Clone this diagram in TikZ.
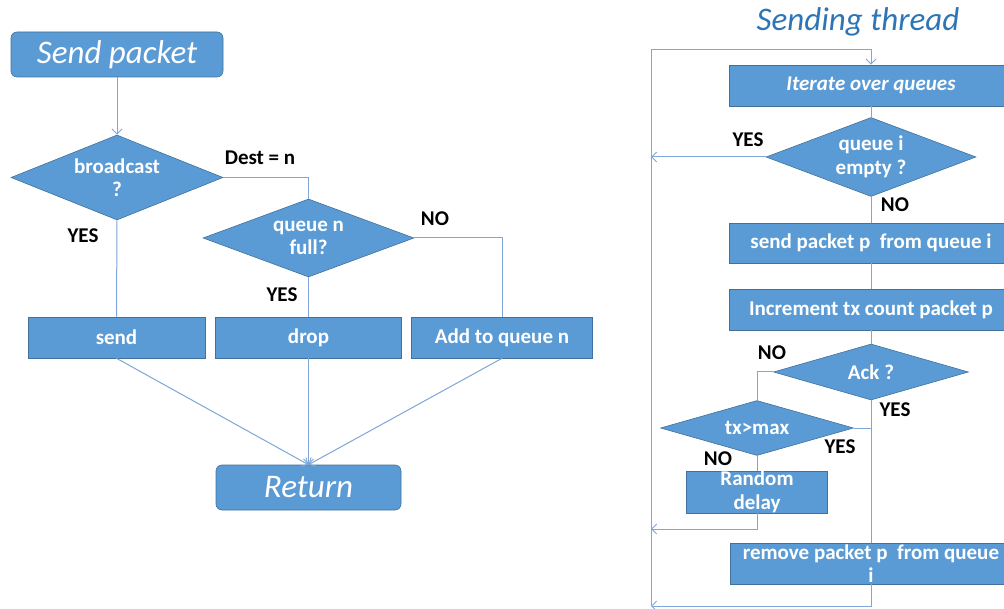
\documentclass[tikz,border=0pt]{standalone}
\usepackage{fontspec}
\setmainfont{Carlito}
\usetikzlibrary{shapes.geometric,arrows.meta}
\definecolor{boxfill}{HTML}{5B9BD5}
\definecolor{boxline}{HTML}{41719C}
\definecolor{connblue}{HTML}{7EA6D8}
\definecolor{titleblue}{HTML}{2E75B6}
\begin{document}
\begin{tikzpicture}[x=1pt,y=-1pt,
 box/.style={rectangle, fill=boxfill, draw=boxline, line width=0.6pt, text=white, font=\fontsize{21}{23.5}\selectfont\bfseries, inner sep=0pt, align=center},
 term/.style={box, rounded corners=6pt, font=\fontsize{33}{36}\selectfont\itshape},
 decision/.style={diamond, fill=boxfill, draw=boxline, line width=0.6pt, text=white, font=\fontsize{21}{23.5}\selectfont\bfseries, inner sep=0pt, align=center, shape aspect=2.5},
 conn/.style={draw=connblue, line width=1pt},
 arr/.style={conn, -{Straight Barb[length=5pt,width=10pt]}},
 lbl/.style={font=\fontsize{21}{23}\selectfont\bfseries, text=black, inner sep=0pt}
]
\useasboundingbox (0,0) rectangle (1004,609);
\clip (0,0) rectangle (1004,609);

% ---- left: Send packet ----
\node[term, minimum width=212pt, minimum height=45pt] (sp) at (117,54.5) {Send packet};
\node[decision, minimum width=212pt, minimum height=85pt] (bc) at (117,177.5) {broadcast\\?};
\node[decision, minimum width=211pt, minimum height=78pt] (qn) at (308.5,238) {queue n\\full?};
\node[box, minimum width=177pt, minimum height=41pt] (send) at (116.5,337.5) {send};
\node[box, minimum width=186pt, minimum height=41pt] (drop) at (308.5,337.5) {drop};
\node[box, minimum width=181pt, minimum height=41pt] (add) at (502,337.5) {Add to queue n};
\node[term, minimum width=185pt, minimum height=45pt] (ret) at (308.5,487.5) {Return};

\draw[arr] (sp.south) -- (bc.north);
\draw[conn] (bc.east) -| (qn.north);
\draw[conn] (bc.south) -- (send.north);
\draw[conn] (qn.south) -- (drop.north);
\draw[conn] (qn.east) -| (add.north);
\draw[arr] (send.south) -- (ret.north);
\draw[arr] (drop.south) -- (ret.north);
\draw[arr] (add.south) -- (ret.north);

\node[lbl] (l1) at (260,158) {Dest = n};
\node[lbl] (l2) at (83,236) {YES};
\node[lbl] (l3) at (435,219) {NO};
\node[lbl] (l4) at (282,295) {YES};

% ---- right: Sending thread ----
\node[font=\fontsize{33}{36}\selectfont\itshape, text=titleblue, inner sep=0pt] (title) at (858,22) {Sending thread};
\node[box, minimum width=284pt, minimum height=41pt, font=\fontsize{21}{23.5}\selectfont\bfseries\itshape] (it) at (871,85.5) {Iterate over queues};
\node[decision, minimum width=210pt, minimum height=79pt] (qe) at (871,157) {queue i\\empty ?};
\node[box, minimum width=284pt, minimum height=40pt] (sendp) at (871,243) {send packet p\ \ from queue i};
\node[box, minimum width=284pt, minimum height=41pt] (inc) at (871,309.5) {Increment tx count packet p};
\node[decision, minimum width=195pt, minimum height=56pt] (ack) at (871,372) {Ack ?};
\node[decision, minimum width=193pt, minimum height=55pt] (tx) at (757,428) {tx>max};
\node[box, minimum width=141pt, minimum height=42pt, font=\fontsize{21}{24}\selectfont\bfseries] (rd) at (757,492) {Random\\delay};
\node[box, minimum width=282pt, minimum height=41pt] (rm) at (871,563.5) {remove packet p\ \ from queue\\i};

\coordinate (lt) at (651,50);
\coordinate (lb) at (651,606);
\coordinate (rdl) at (651,529);

\draw[arr] (lb) -- (lt) -| (it.north);
\draw[conn] (it.south) -- (qe.north);
\draw[arr] (qe.west) -- (qe.west -| lt);
\draw[conn] (qe.south) -- (sendp.north);
\draw[conn] (sendp.south) -- (inc.north);
\draw[conn] (inc.south) -- (ack.north);
\draw[conn] (ack.west) -| (tx.north);
\draw[conn] (ack.south) -- (rm.north);
\draw[conn] (tx.east) -- (tx.east -| ack.south);
\draw[conn] (tx.south) -- (rd.north);
\draw[arr] (rd.south) |- (rdl);
\draw[arr] (rm.south) |- (lb);

\node[lbl] (r1) at (748,140) {YES};
\node[lbl] (r2) at (895,205) {NO};
\node[lbl] (r3) at (772,353) {NO};
\node[lbl] (r4) at (895,410) {YES};
\node[lbl] (r5) at (840,447) {YES};
\node[lbl] (r6) at (718,459) {NO};
\end{tikzpicture}
\end{document}
